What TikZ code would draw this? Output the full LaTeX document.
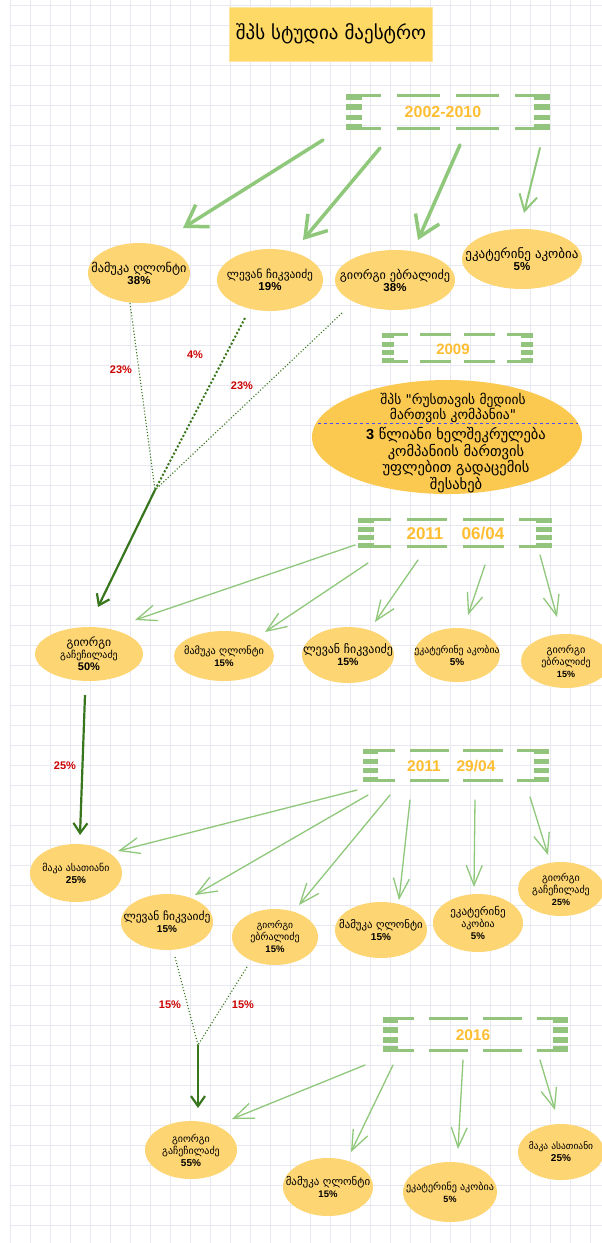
\documentclass[tikz,border=0pt]{standalone}
\usepackage{fontspec}
\setmainfont{DejaVu Sans}
\newfontfamily\geo{DejaVu Sans}
\newfontfamily\ari{Liberation Sans}
\usetikzlibrary{arrows.meta}
\definecolor{ellfill}{RGB}{253,213,115}
\definecolor{bigfill}{RGB}{251,200,80}
\definecolor{titlefill}{RGB}{255,217,102}
\definecolor{brkc}{RGB}{147,196,125}
\definecolor{lgreen}{RGB}{143,200,122}
\definecolor{dgreen}{RGB}{56,118,29}
\definecolor{yearc}{RGB}{255,190,50}
\definecolor{redc}{RGB}{204,0,0}
\definecolor{gridc}{RGB}{232,232,242}
\newcommand\pc[2]{{\ari\bfseries\fontsize{#1}{#1}\selectfont #2}}
\newcommand\gf[2]{\fontsize{#1}{#2}\selectfont}
\newcommand\ellnode[6]{%
  \fill[ellfill] (#2,#3) ellipse ({#4pt} and {#5pt});
  \node[txt] (#1) at (#2,#3) {#6};}
\newcommand\brk[4]{%
  \pgfmathsetmacro\bW{#2-#1}%
  \pgfmathsetmacro\bH{#4-#3}%
  \foreach \f in {0,0.29,0.57,0.84} {
    \fill[brkc] (#1,{#3+\f*\bH}) rectangle ({#1+0.08*\bW},{#3+\f*\bH+0.16*\bH});
    \fill[brkc] ({#2-0.08*\bW},{#3+\f*\bH}) rectangle (#2,{#3+\f*\bH+0.16*\bH});
  }
  \foreach \yy in {#3,{#4-3}} {
    \fill[brkc] (#1,\yy) rectangle ({#1+0.17*\bW},{\yy+3});
    \fill[brkc] ({#1+0.25*\bW},\yy) rectangle ({#1+0.46*\bW},{\yy+3});
    \fill[brkc] ({#1+0.54*\bW},\yy) rectangle ({#1+0.75*\bW},{\yy+3});
    \fill[brkc] ({#2-0.17*\bW},\yy) rectangle (#2,{\yy+3});
  }}
\tikzset{
  txt/.style={align=center, inner sep=0pt, font=\geo},
  year/.style={inner sep=0pt, text=yearc, font=\ari\bfseries\fontsize{16}{16}\selectfont},
  plab/.style={inner sep=0pt, text=redc, font=\ari\bfseries\fontsize{11}{11}\selectfont},
  thickarrow/.style={draw=lgreen, line width=3.5pt, line cap=round, -{Straight Barb[length=20pt,width=26pt]}},
  medarrow/.style={draw=lgreen, line width=2pt, line cap=round, -{Straight Barb[length=16pt,width=18pt]}},
  thinarrow/.style={draw=lgreen, line width=1.3pt, line cap=round, -{Straight Barb[length=20pt,width=16pt]}},
  darrow/.style={draw=dgreen, line width=2.2pt, -{Straight Barb[length=10pt,width=14pt]}},
  dline/.style={draw=dgreen, line width=1.1pt, dotted},
  dlinethick/.style={draw=dgreen, line width=2pt, dotted},
}
\begin{document}
\begin{tikzpicture}[x=1pt,y=-1pt]
\useasboundingbox (0,0) rectangle (602,1243);
\fill[white] (0,0) rectangle (602,1243);
\foreach \gx in {10,30,...,600} \draw[gridc, line width=0.5pt] (\gx,0) -- (\gx,1243);
\foreach \gy in {5,25,...,1240} \draw[gridc, line width=0.5pt] (10,\gy) -- (602,\gy);

% title
\node[fill=titlefill, draw={rgb,255:red,255;green,230;blue,160}, minimum width=203pt, minimum height=54pt, inner sep=0pt,
  font=\geo\fontsize{19}{19}\selectfont] (title) at (331,34) {შპს სტუდია მაესტრო};

% brackets and years
\brk{346}{550}{94}{130}
\node[year] (y1) at (443,112) {2002-2010};
\brk{382}{533}{333}{363}
\node[year, font=\ari\bfseries\fontsize{15}{15}\selectfont] (y2) at (453,349) {2009};
\brk{358}{552}{518}{548}
\node[year, font=\ari\bfseries\fontsize{17}{17}\selectfont] (y3a) at (425,534) {2011};
\node[year, font=\ari\bfseries\fontsize{17}{17}\selectfont] (y3b) at (483,534) {06/04};
\brk{363}{549}{749}{782}
\node[year, font=\ari\bfseries\fontsize{15.5}{15.5}\selectfont] (y4a) at (424,766) {2011};
\node[year, font=\ari\bfseries\fontsize{15.5}{15.5}\selectfont] (y4b) at (476,766) {29/04};
\brk{383}{568}{1017}{1052}
\node[year, font=\ari\bfseries\fontsize{15.5}{15.5}\selectfont] (y5) at (473,1035) {2016};

% row 1
\ellnode{r1a}{139}{273}{51}{30}{\gf{12.3}{12.5}მამუკა ღლონტი\\\pc{11.5}{38\%}}
\ellnode{r1b}{270}{280}{53}{31}{\gf{11.4}{12.5}ლევან ჩიკვაიძე\\\pc{11.5}{19\%}}
\ellnode{r1c}{395}{280}{60}{30}{\gf{12.2}{12.5}გიორგი ებრალიძე\\\pc{11.5}{38\%}}
\ellnode{r1d}{522}{259}{60}{30}{\gf{13}{13}ეკატერინე აკობია\\\pc{11.5}{5\%}}

% big ellipse
\fill[bigfill] (447,437) ellipse (135pt and 57pt);
\draw[blue!70, dashed, line width=0.6pt] (318,423) -- (578,423);
\node[txt, font=\geo\fontsize{13.5}{12.5}\selectfont] (big1) at (453,408) {შპს "რუსთავის მედიის\\მართვის კომპანია"};
\node[txt, font=\geo\fontsize{14.5}{14.3}\selectfont] (big2) at (456,460) {{\ari\bfseries 3} წლიანი ხელშეკრულება\\კომპანიის მართვის\\უფლებით გადაცემის\\შესახებ};

% row 2
\ellnode{r2a}{89}{654}{54}{27}{\gf{11.8}{13.5}გიორგი\\გაჩეჩილაძე\\\pc{11}{50\%}}
\ellnode{r2b}{224}{656}{50}{25}{\gf{10.3}{11.5}მამუკა ღლონტი\\\pc{9.6}{15\%}}
\ellnode{r2c}{348}{655}{46}{28}{\gf{11.9}{12}ლევან ჩიკვაიძე\\\pc{10.5}{15\%}}
\ellnode{r2d}{457}{655}{43}{27}{\gf{9.8}{11}ეკატერინე აკობია\\\pc{10}{5\%}}
\ellnode{r2e}{566}{661}{45}{27}{\gf{10.2}{11}გიორგი\\ებრალიძე\\\pc{9}{15\%}}

% row 3
\ellnode{r3a}{76}{873}{46}{29}{\gf{9.9}{11.5}მაკა ასათიანი\\\pc{10}{25\%}}
\ellnode{r3b}{167}{922}{46}{28}{\gf{11.5}{12.5}ლევან ჩიკვაიძე\\\pc{10}{15\%}}
\ellnode{r3c}{275}{937}{43}{28}{\gf{9.6}{11}გიორგი\\ებრალიძე\\\pc{9.5}{15\%}}
\ellnode{r3d}{381}{930}{46}{28}{\gf{10.8}{11.5}მამუკა ღლონტი\\\pc{10}{15\%}}
\ellnode{r3e}{478}{923}{45}{29}{\gf{11}{11.5}ეკატერინე\\აკობია\\\pc{9.7}{5\%}}
\ellnode{r3f}{561}{889}{43}{27}{\gf{10}{10.8}გიორგი\\გაჩეჩილაძე\\\pc{9}{25\%}}

% row 4
\ellnode{r4a}{191}{1150}{46}{29}{\gf{10}{11.2}გიორგი\\გაჩეჩილაძე\\\pc{10}{55\%}}
\ellnode{r4b}{328}{1187}{45}{29}{\gf{10.9}{11.5}მამუკა ღლონტი\\\pc{9.5}{15\%}}
\ellnode{r4c}{450}{1192}{47}{30}{\gf{10.1}{11.5}ეკატერინე აკობია\\\pc{9}{5\%}}
\ellnode{r4d}{561}{1152}{43}{28}{\gf{9.5}{11.5}მაკა ასათიანი\\\pc{10}{25\%}}

% connector coordinates
\coordinate (s11) at (323,140); \coordinate (t11) at (183,228);
\coordinate (s12) at (380,148); \coordinate (t12) at (303,240);
\coordinate (s13) at (460,145); \coordinate (t13) at (418,240);
\coordinate (s14) at (540,148); \coordinate (t14) at (524,213);
\coordinate (d11) at (130,303); \coordinate (d12) at (245,318); \coordinate (d13) at (342,313);
\coordinate (m1) at (155,490); \coordinate (m1t) at (98,607);
\coordinate (s21) at (355,545); \coordinate (t21) at (135,620);
\coordinate (s22) at (368,563); \coordinate (t22) at (265,632);
\coordinate (s23) at (418,560); \coordinate (t23) at (375,622);
\coordinate (s24) at (485,565); \coordinate (t24) at (468,615);
\coordinate (s25) at (540,555); \coordinate (t25) at (557,617);
\coordinate (g1) at (85,695); \coordinate (g1t) at (80,835);
\coordinate (s31) at (357,790); \coordinate (t31) at (118,851);
\coordinate (s32) at (368,795); \coordinate (t32) at (195,895);
\coordinate (s33) at (390,795); \coordinate (t33) at (299,905);
\coordinate (s34) at (410,800); \coordinate (t34) at (399,900);
\coordinate (s35) at (475,800); \coordinate (t35) at (474,887);
\coordinate (s36) at (530,797); \coordinate (t36) at (548,855);
\coordinate (d31) at (175,957); \coordinate (d32) at (247,967);
\coordinate (m3) at (198,1045); \coordinate (m3t) at (198,1108);
\coordinate (s41) at (365,1065); \coordinate (t41) at (232,1119);
\coordinate (s42) at (393,1065); \coordinate (t42) at (351,1152);
\coordinate (s43) at (463,1060); \coordinate (t43) at (458,1149);
\coordinate (s44) at (540,1060); \coordinate (t44) at (555,1110);

% connectors
\draw[thickarrow] (s11) -- (t11);
\draw[thickarrow] (s12) -- (t12);
\draw[thickarrow] (s13) -- (t13);
\draw[medarrow] (s14) -- (t14);
\draw[dline] (d11) -- (m1);
\draw[dlinethick] (d12) -- (m1);
\draw[dline] (d13) -- (m1);
\draw[darrow] (m1) -- (m1t);
\node[plab] (p1) at (121,370) {23\%};
\node[plab] (p2) at (195,355) {4\%};
\node[plab] (p3) at (242,386) {23\%};

\draw[thinarrow] (s21) -- (t21);
\draw[thinarrow] (s22) -- (t22);
\draw[thinarrow] (s23) -- (t23);
\draw[thinarrow] (s24) -- (t24);
\draw[thinarrow] (s25) -- (t25);

\draw[darrow] (g1) -- (g1t);
\node[plab] (p4) at (65,766) {25\%};

\draw[thinarrow] (s31) -- (t31);
\draw[thinarrow] (s32) -- (t32);
\draw[thinarrow] (s33) -- (t33);
\draw[thinarrow] (s34) -- (t34);
\draw[thinarrow] (s35) -- (t35);
\draw[thinarrow] (s36) -- (t36);

\draw[dline] (d31) -- (m3);
\draw[dline] (d32) -- (m3);
\draw[darrow] (m3) -- (m3t);
\node[plab] (p5) at (170,1005) {15\%};
\node[plab] (p6) at (243,1005) {15\%};

\draw[thinarrow] (s41) -- (t41);
\draw[thinarrow] (s42) -- (t42);
\draw[thinarrow] (s43) -- (t43);
\draw[thinarrow] (s44) -- (t44);
\end{tikzpicture}
\end{document}
